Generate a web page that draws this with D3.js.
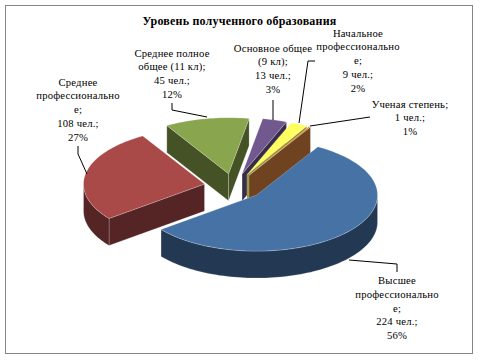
<!DOCTYPE html>
<html>
<head>
<meta charset="utf-8">
<script src="https://cdn.jsdelivr.net/npm/d3@7"></script>
<style>
  html, body { margin: 0; padding: 0; background: #fff; }
  svg { display: block; }
  text { font-family: "Liberation Serif", serif; fill: #000; }
</style>
</head>
<body>
<div id="chart"></div>
<script>
// category names, broken the way the chart wraps them
const categories = [
    ['Высшее', 'профессионально', 'е;'],
    ['Среднее', 'профессионально', 'е;'],
    ['Среднее полное', 'общее (11 кл);'],
    ['Основное общее', '(9 кл);'],
    ['Начальное', 'профессионально', 'е;'],
    ['Ученая степень;']
];
const people = [224, 108, 45, 13, 9, 1];
const percentLabels = ['56%', '27%', '12%', '3%', '2%', '1%'];
const topColors = ['#4672a6', '#a94a49', '#89a54e', '#71588f', '#ffff5f', '#e08b3d'];
const sideColors = ['#233853', '#552424', '#455226', '#392c49', '#8f8f30', '#6f4320'];

const labelAnchors = [[397, 284], [78, 85.5], [172, 56.5], [273, 51.5], [358, 36.5], [410, 107.5]];
const leaders = [
    [[397, 272], [397, 264], [349, 260]],
    [[78, 146], [78, 154], [87, 174]],
    [[172, 103], [172, 110], [207, 117]],
    [[273, 100], [273, 120]],
    [[315, 61], [308, 61], [299, 123]],
    [[370, 117], [310, 126]]
];

const width = 479, height = 360;
const centerX = 234, centerY = 186.5, radiusX = 121, radiusY = 56, depth = 27;
const explodeX = 30 / radiusX, explodeY = 13 / radiusY;
const startDeg = 30.5;

const svg = d3.select('#chart').append('svg')
    .attr('width', width)
    .attr('height', height);

svg.append('rect')
    .attr('x', 5.5).attr('y', 5.5)
    .attr('width', 467).attr('height', 348)
    .attr('fill', '#fff')
    .attr('stroke', '#868686')
    .attr('stroke-width', 1);

// unit circle to screen
const sx = d3.scaleLinear().domain([-1, 1]).range([centerX - radiusX, centerX + radiusX]);
const sy = d3.scaleLinear().domain([-1, 1]).range([centerY + radiusY, centerY - radiusY]);

const pie = d3.pie().sort(null)
    .startAngle(startDeg * Math.PI / 180)
    .endAngle((startDeg + 360) * Math.PI / 180);
const arcs = pie(people).map((d, i) => ({ ...d, i }));

const line = d3.line();

function point(d, angle, r, drop) {
    const mid = (d.startAngle + d.endAngle) / 2;
    const ux = explodeX * Math.sin(mid) + r * Math.sin(angle);
    const uy = explodeY * Math.cos(mid) + r * Math.cos(angle);
    return [sx(ux), sy(uy) + drop];
}

function rim(d, a0, a1, drop) {
    const n = Math.max(2, Math.ceil((a1 - a0) / 0.03));
    return d3.range(n + 1).map(k => point(d, a0 + (a1 - a0) * k / n, 1, drop));
}

function drawWall(g, d, pts) {
    g.append('path')
        .attr('d', line(pts) + 'Z')
        .attr('fill', sideColors[d.i])
        .attr('stroke', '#fff')
        .attr('stroke-opacity', 0.3)
        .attr('stroke-width', 0.7);
}

function drawSlice(d) {
    const g = svg.append('g').attr('class', 'slice');
    const PI = Math.PI, TAU = 2 * PI;

    // radial walls, only the side that faces the viewer
    [d.startAngle, d.endAngle].forEach((a, k) => {
        const s = Math.sin(a);
        const visible = k === 0 ? s < 0 : s > 0;
        if (!visible) return;
        drawWall(g, d, [point(d, a, 0, 0), point(d, a, 1, 0), point(d, a, 1, depth), point(d, a, 0, depth)]);
    });

    // outer wall on the front half of the ellipse
    [[PI / 2, 3 * PI / 2], [PI / 2 + TAU, 3 * PI / 2 + TAU]].forEach(([f0, f1]) => {
        const a0 = Math.max(d.startAngle, f0), a1 = Math.min(d.endAngle, f1);
        if (a1 <= a0) return;
        drawWall(g, d, rim(d, a0, a1, 0).concat(rim(d, a0, a1, depth).reverse()));
    });

    g.append('path')
        .attr('d', line([point(d, 0, 0, 0)].concat(rim(d, d.startAngle, d.endAngle, 0))) + 'Z')
        .attr('fill', topColors[d.i])
        .attr('stroke', '#fff')
        .attr('stroke-opacity', 0.3)
        .attr('stroke-width', 0.7);
}

// back slices first, blue sits in front of the brown wall
[2, 3, 4, 5, 1, 0].forEach(i => drawSlice(arcs[i]));

// leader lines
svg.selectAll('.leader')
    .data(leaders)
    .join('path')
    .attr('class', 'leader')
    .attr('d', d => line(d))
    .attr('fill', 'none')
    .attr('stroke', '#000')
    .attr('stroke-width', 1);

// labels
categories.forEach((name, i) => {
    const lines = [...name, `${people[i]} чел.;`, percentLabels[i]];
    const t = svg.append('text')
        .attr('text-anchor', 'middle')
        .attr('font-size', 10.67)
        .attr('letter-spacing', 0.2);
    lines.forEach((s, j) => {
        t.append('tspan')
            .attr('x', labelAnchors[i][0])
            .attr('y', labelAnchors[i][1] + j * 13.8)
            .text(s);
    });
});

svg.append('text')
    .attr('x', 239.5)
    .attr('y', 25)
    .attr('text-anchor', 'middle')
    .attr('font-size', 12)
    .attr('font-weight', 'bold')
    .attr('letter-spacing', 0.2)
    .text('Уровень полученного образования');
</script>
</body>
</html>
